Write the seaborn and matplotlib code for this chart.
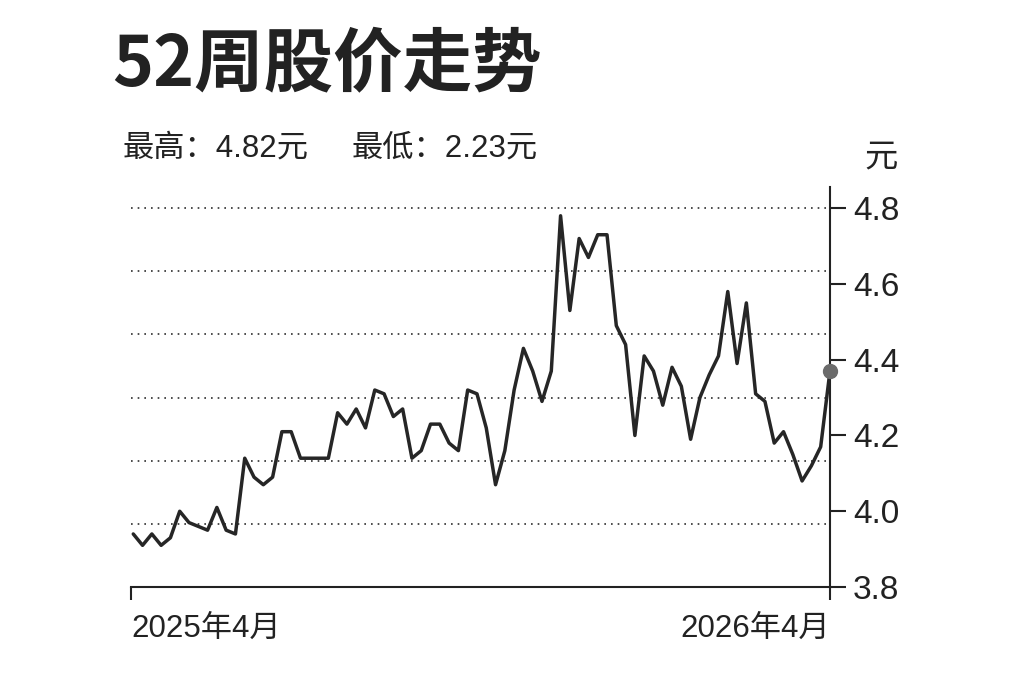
import numpy as np
import pandas as pd
import matplotlib
matplotlib.use("Agg")
import matplotlib.pyplot as plt
from matplotlib import font_manager
import seaborn as sns

# values (weekly-ish closes, 2025-04 .. 2026-04)
prices = [3.94, 3.91, 3.94, 3.91, 3.93, 4.00, 3.97, 3.96, 3.95, 4.01,
          3.95, 3.94, 4.14, 4.09, 4.07, 4.09, 4.21, 4.21, 4.14, 4.14,
          4.14, 4.14, 4.26, 4.23, 4.27, 4.22, 4.32, 4.31, 4.25, 4.27,
          4.14, 4.16, 4.23, 4.23, 4.18, 4.16, 4.32, 4.31, 4.22, 4.07,
          4.16, 4.32, 4.43, 4.37, 4.29, 4.37, 4.78, 4.53, 4.72, 4.67,
          4.73, 4.73, 4.49, 4.44, 4.20, 4.41, 4.37, 4.28, 4.38, 4.33,
          4.19, 4.30, 4.36, 4.41, 4.58, 4.39, 4.55, 4.31, 4.29, 4.18,
          4.21, 4.15, 4.08, 4.12, 4.17, 4.37]
x_labels = ["2025年4月", "2026年4月"]
y_ticks = [3.8, 4.0, 4.2, 4.4, 4.6, 4.8]
title = "52周股价走势"
high_text = "最高：4.82元"
low_text = "最低：2.23元"
unit = "元"

df = pd.DataFrame({"idx": np.arange(len(prices)), "price": prices})

sns.set_style("white")
plt.rcParams["font.family"] = ["Liberation Sans", "Noto Sans CJK SC", "DejaVu Sans"]

# narrow digits on the value axis if the narrow face is around
installed = {f.name for f in font_manager.fontManager.ttflist}
if "Liberation Sans Narrow" in installed:
    ytick_family, ytick_size = ["Liberation Sans Narrow"], 27
else:
    ytick_family, ytick_size = ["Liberation Sans"], 24

ink = "#222222"
fig = plt.figure(figsize=(10.23, 6.82), dpi=100)
ax = fig.add_axes([0.128, 0.1393, 0.6833, 0.5865])

# decorative dotted guide lines (6 even bands, not tied to the ticks)
y_lo, y_top = 3.8, 4.856
for k in range(1, 7):
    ax.axhline(3.8 + k / 6, xmin=0, xmax=0.994, color="#2e2e2e",
               linewidth=1.2, linestyle=(0, (1, 3.0)), zorder=1)

sns.lineplot(data=df, x="idx", y="price", ax=ax, color="#262626",
             linewidth=2.5, zorder=3)
ax.plot(df["idx"].iloc[-1], df["price"].iloc[-1], "o", color="#6b6b6b",
        markersize=10, zorder=4, clip_on=False)

n = len(prices) - 1
ax.set_xlim(-0.25, n)
ax.set_ylim(y_lo, y_top)

for side in ["top", "left"]:
    ax.spines[side].set_visible(False)
for side in ["bottom", "right"]:
    ax.spines[side].set_color(ink)
    ax.spines[side].set_linewidth(1.5)

ax.yaxis.tick_right()
ax.set_yticks(y_ticks)
ax.set_yticklabels([f"{v:.1f}" for v in y_ticks], family=ytick_family,
                   fontsize=ytick_size, color=ink)
ax.tick_params(axis="y", right=True, direction="out", length=11.5, width=1.5,
               color=ink, pad=5)

ax.set_xticks([-0.25, n])
ax.set_xticklabels(x_labels, fontsize=22.5, color=ink)
for lab, ha in zip(ax.get_xticklabels(), ["left", "right"]):
    lab.set_ha(ha)
ax.tick_params(axis="x", bottom=True, direction="out", length=9, width=1.5,
               color=ink, pad=10)
ax.set_xlabel("")
ax.set_ylabel("")
ax.grid(False)

fig.text(0.110, 0.905, title, fontsize=50, fontweight=900, color=ink,
         family=["Noto Sans CJK SC", "DejaVu Sans"], va="center", ha="left")
fig.text(0.120, 0.782, high_text, fontsize=22.5, color=ink, va="center", ha="left")
fig.text(0.344, 0.782, low_text, fontsize=22.5, color=ink, va="center", ha="left")
fig.text(0.861, 0.770, unit, fontsize=24, color=ink,
         family=["Noto Sans CJK SC"], va="center", ha="center")

fig.savefig("out.png", dpi=100, facecolor="white")
plt.close(fig)
